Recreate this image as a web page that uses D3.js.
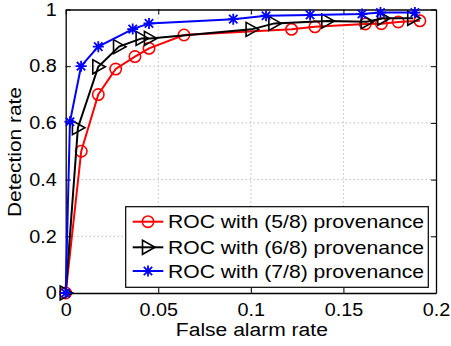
<!DOCTYPE html>
<html><head><meta charset="utf-8">
<script src="https://cdn.jsdelivr.net/npm/d3@7"></script>
<style>body{margin:0;background:#fff}svg{display:block}text{font-family:"Liberation Sans",Arial,sans-serif}</style>
</head><body>
<script>
const xTicks = [0, 0.05, 0.1, 0.15, 0.2];
const yTicks = [0, 0.2, 0.4, 0.6, 0.8, 1];
const xTickLabels = ["0", "0.05", "0.1", "0.15", "0.2"];
const yTickLabels = ["0", "0.2", "0.4", "0.6", "0.8", "1"];
const seriesNames = ["ROC with (5/8) provenance", "ROC with (6/8) provenance", "ROC with (7/8) provenance"];
const seriesColors = ["#ff0000", "#000000", "#0000ff"];
const seriesMarkers = ["circle", "triangle", "star"];
const fa58 = [0, 0.0084, 0.0176, 0.027, 0.0374, 0.045, 0.0639, 0.122, 0.1346, 0.1618, 0.1705, 0.1796, 0.1913];
const dr58 = [0, 0.50, 0.70, 0.79, 0.834, 0.863, 0.91, 0.93, 0.939, 0.949, 0.95, 0.956, 0.96];
const fa68 = [0, 0.0066, 0.0176, 0.0288, 0.041, 0.0455, 0.1004, 0.1127, 0.1413, 0.1626, 0.1715, 0.1877];
const dr68 = [0, 0.583, 0.798, 0.869, 0.898, 0.898, 0.930, 0.951, 0.959, 0.957, 0.969, 0.969];
const fa78 = [0, 0.0023, 0.0083, 0.0176, 0.0362, 0.045, 0.0905, 0.1082, 0.132, 0.160, 0.170, 0.1886];
const dr78 = [0, 0.604, 0.80, 0.869, 0.931, 0.951, 0.966, 0.978, 0.981, 0.984, 0.989, 0.989];

const series = [
  {fa: fa58, dr: dr58},
  {fa: fa68, dr: dr68},
  {fa: fa78, dr: dr78}
];

const W = 451, H = 346;
const L = 65.7, R = 436, T = 9.5, B = 293;
const svg = d3.select("body").append("svg").attr("width", W).attr("height", H);
const x = d3.scaleLinear().domain([0, 0.2]).range([L, R]);
const y = d3.scaleLinear().domain([0, 1]).range([B, T]);

// grid
const g = svg.append("g");
g.selectAll("line.gx").data(xTicks.slice(1, -1)).join("line")
  .attr("x1", d => x(d)).attr("x2", d => x(d)).attr("y1", T).attr("y2", B)
  .attr("stroke", "#a0a0a0").attr("stroke-width", 1).attr("stroke-dasharray", "1,3");
g.selectAll("line.gy").data(yTicks.slice(1, -1)).join("line")
  .attr("y1", d => y(d)).attr("y2", d => y(d)).attr("x1", L).attr("x2", R)
  .attr("stroke", "#a0a0a0").attr("stroke-width", 1).attr("stroke-dasharray", "1,3");

// axes via d3 axis with inner ticks
const fs = 18;
const axB = svg.append("g").attr("transform", `translate(0,${B})`)
  .call(d3.axisBottom(x).tickValues(xTicks).tickFormat((d, i) => xTickLabels[i]).tickSizeInner(-5).tickSizeOuter(0).tickPadding(10));
const axL = svg.append("g").attr("transform", `translate(${L},0)`)
  .call(d3.axisLeft(y).tickValues(yTicks).tickFormat((d, i) => yTickLabels[i]).tickSizeInner(-5).tickSizeOuter(0).tickPadding(9));
const axT = svg.append("g").attr("transform", `translate(0,${T})`)
  .call(d3.axisTop(x).tickValues(xTicks).tickFormat("").tickSizeInner(-5).tickSizeOuter(0));
const axR = svg.append("g").attr("transform", `translate(${R},0)`)
  .call(d3.axisRight(y).tickValues(yTicks).tickFormat("").tickSizeInner(-5).tickSizeOuter(0));
[axB, axL, axT, axR].forEach(a => {
  a.select(".domain").attr("stroke", "#000").attr("stroke-width", 1.3);
  a.selectAll(".tick line").attr("stroke", "#000").attr("stroke-width", 1);
  a.selectAll("text").attr("font-size", fs).attr("fill", "#000").attr("font-family", "Liberation Sans, Arial, sans-serif");
});
axB.selectAll("text").attr("dy", "0.71em");
[axB, axL].forEach(a => a.selectAll(".tick text").each(function() {
  const len = this.getComputedTextLength();
  d3.select(this).attr("textLength", len * 1.1).attr("lengthAdjust", "spacingAndGlyphs");
}));

// lines and markers
const line = d3.line().x(d => x(d[0])).y(d => y(d[1]));
function marker(sel, type, color) {
  if (type === "circle") {
    sel.append("circle").attr("r", 5.7).attr("fill", "none").attr("stroke", color).attr("stroke-width", 1.6);
  } else if (type === "triangle") {
    sel.append("path").attr("d", "M-5.5,-7 L7,0 L-5.5,7 Z").attr("fill", "none").attr("stroke", color).attr("stroke-width", 1.6);
  } else {
    const s = 5.5, d2 = 4.2;
    sel.append("path").attr("d", `M${-s},0L${s},0M0,${-s}L0,${s}M${-d2},${-d2}L${d2},${d2}M${-d2},${d2}L${d2},${-d2}`)
      .attr("stroke", color).attr("stroke-width", 1.8).attr("fill", "none");
  }
}
series.forEach((s, i) => {
  const pts = s.fa.map((v, j) => [v, s.dr[j]]);
  svg.append("path").datum(pts).attr("d", line).attr("fill", "none")
    .attr("stroke", seriesColors[i]).attr("stroke-width", 2);
  svg.append("g").selectAll("g").data(pts).join("g")
    .attr("transform", d => `translate(${x(d[0])},${y(d[1])})`)
    .each(function() { marker(d3.select(this), seriesMarkers[i], seriesColors[i]); });
});

// axis titles
svg.append("text").attr("x", (L + R) / 2 + 1).attr("y", 336).attr("text-anchor", "middle")
  .attr("font-size", 18).attr("textLength", 152).attr("lengthAdjust", "spacingAndGlyphs").text("False alarm rate");
svg.append("text").attr("transform", `translate(21,152) rotate(-90)`).attr("text-anchor", "middle")
  .attr("font-size", 18.5).attr("textLength", 130).attr("lengthAdjust", "spacingAndGlyphs").text("Detection rate");

// legend
const lg = svg.append("g");
lg.append("rect").attr("x", 125.7).attr("y", 206.7).attr("width", 302.6).attr("height", 80.6)
  .attr("fill", "#fff").attr("stroke", "#000").attr("stroke-width", 1.2);
const rowY = [221.7, 247.3, 271];
seriesNames.forEach((n, i) => {
  const r = lg.append("g").attr("transform", `translate(0,${rowY[i]})`);
  r.append("line").attr("x1", 132.7).attr("x2", 163.3).attr("y1", 0).attr("y2", 0)
    .attr("stroke", seriesColors[i]).attr("stroke-width", 2);
  marker(r.append("g").attr("transform", "translate(148,0)"), seriesMarkers[i], seriesColors[i]);
  r.append("text").attr("x", 168).attr("y", 0).attr("dy", "0.36em").attr("font-size", 18.5)
    .attr("textLength", 256).attr("lengthAdjust", "spacingAndGlyphs").text(n);
});
</script>
</body></html>
